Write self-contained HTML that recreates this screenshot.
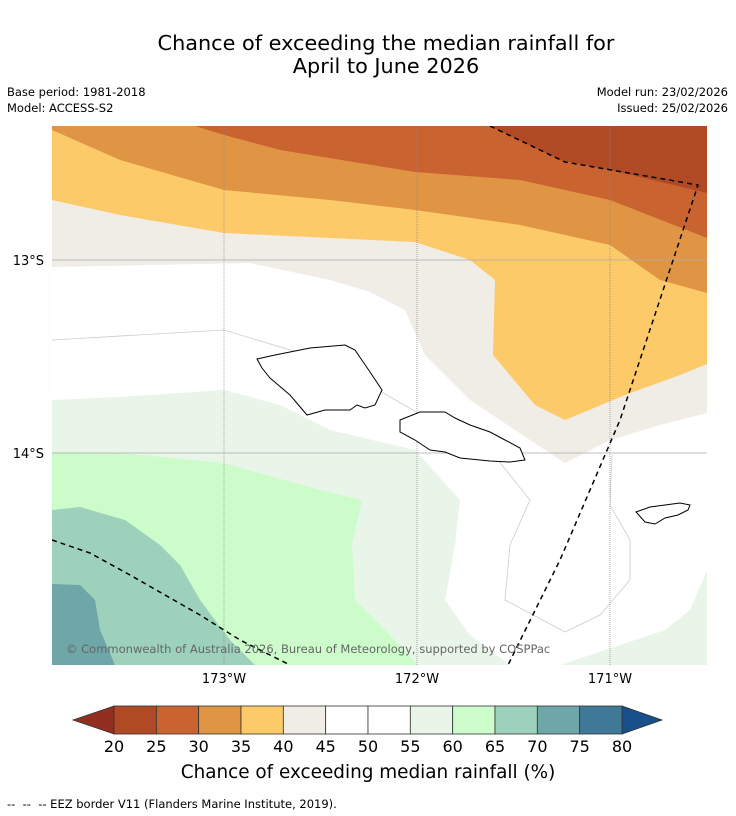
<!DOCTYPE html>
<html><head><meta charset="utf-8"><style>
body{margin:0;background:#fff;font-family:"DejaVu Sans","Liberation Sans",sans-serif;}
</style></head><body>
<svg width="736" height="816" viewBox="0 0 736 816" xmlns="http://www.w3.org/2000/svg" style="display:block;font-family:'DejaVu Sans','Liberation Sans',sans-serif">
<rect width="736" height="816" fill="#fefefe"/>
<text x="386" y="50" font-size="20.8" text-anchor="middle" fill="#000">Chance of exceeding the median rainfall for</text>
<text x="386" y="73" font-size="20.8" text-anchor="middle" fill="#000">April to June 2026</text>
<text x="7" y="96" font-size="11.5">Base period: 1981-2018</text>
<text x="7" y="112" font-size="11.5">Model: ACCESS-S2</text>
<text x="728" y="96" font-size="11.5" text-anchor="end">Model run: 23/02/2026</text>
<text x="728" y="112" font-size="11.5" text-anchor="end">Issued: 25/02/2026</text>
<defs><clipPath id="mc"><rect x="52" y="126" width="655" height="539"/></clipPath></defs>
<g clip-path="url(#mc)">
<rect x="52" y="126" width="655" height="539" fill="#ffffff"/>
<polygon fill="#f0ece6" points="52,126 707,126 707,413 660,425 610,440 565,463 530,440 470,400 425,355 405,310 370,292 330,280 250,263 52,267"/>
<polygon fill="#fdca69" points="52,126 707,126 707,364 680,375 625,395 565,420 535,405 493,355 495,280 470,260 415,242 330,238 224,233 120,215 52,200"/>
<polygon fill="#e09545" points="52,126 707,126 707,293 660,280 610,245 520,225 415,210 330,200 224,190 120,160 52,130"/>
<polygon fill="#c96431" points="195,126 707,126 707,238 610,200 520,180 415,172 280,150 224,135"/>
<polygon fill="#b04a25" points="490,126 707,126 707,193 610,170 560,160"/>
<polygon fill="#eaf5ea" points="52,400 120,397 224,390 280,405 330,430 415,450 460,500 455,545 445,600 470,635 510,665 52,665"/>
<polygon fill="#eaf5ea" points="560,665 620,645 665,630 690,610 707,570 707,665"/>
<polygon fill="#ccfcca" points="52,452 120,453 224,463 320,490 362,500 352,545 355,600 385,630 418,665 52,665"/>
<polygon fill="#9dd1bb" points="52,510 80,507 125,520 160,545 180,565 200,600 230,640 255,665 52,665"/>
<polygon fill="#6fa6a7" points="52,584 80,585 95,600 100,630 115,665 52,665"/>
<polyline fill="none" stroke="#ccc" stroke-width="0.8" points="52,340 224,330 330,362 430,420 490,450 530,500 510,545 505,600 565,632 600,615 630,580 630,540 610,505 612,455"/>
<g stroke="#888" stroke-width="0.7">
<line x1="224" y1="126" x2="224" y2="665" stroke-dasharray="1,1"/>
<line x1="417" y1="126" x2="417" y2="665" stroke-dasharray="1,1"/>
<line x1="610" y1="126" x2="610" y2="665" stroke-dasharray="1,1"/>
<line x1="52" y1="260" x2="707" y2="260" stroke="#aaa"/>
<line x1="52" y1="453" x2="707" y2="453" stroke="#aaa"/>
</g>
<g fill="#fff" stroke="#000" stroke-width="1">
<polygon points="257,359 275,355 310,348 345,345 355,350 370,372 382,390 375,405 365,408 357,405 350,410 325,410 307,415 290,395 270,378 262,368"/>
<polygon points="400,420 420,412 445,412 455,418 470,425 490,432 505,440 520,448 525,460 510,462 490,461 460,458 445,452 430,450 415,440 400,432"/>
<polygon points="636,512 650,507 665,505 680,503 690,505 688,510 678,515 665,518 655,524 645,522"/>
</g>
<polyline fill="none" stroke="#000" stroke-width="1.5" stroke-dasharray="5,4" points="490,126 565,162 698,185 620,420 560,560 508,665"/>
<polyline fill="none" stroke="#000" stroke-width="1.5" stroke-dasharray="5,4" points="52,540 90,553 130,575 200,615 240,640 290,665"/>
<text x="66" y="653" font-size="11.5" fill="#666">© Commonwealth of Australia 2026, Bureau of Meteorology, supported by COSPPac</text>
</g>
<g font-size="13">
<text x="44" y="265" text-anchor="end">13°S</text>
<text x="44" y="458" text-anchor="end">14°S</text>
<text x="224" y="683" text-anchor="middle">173°W</text>
<text x="417" y="683" text-anchor="middle">172°W</text>
<text x="610" y="683" text-anchor="middle">171°W</text>
</g>
<g id="cbar"></g>
<text x="368" y="778" font-size="18.4" text-anchor="middle">Chance of exceeding median rainfall (%)</text>
<text x="7" y="808" font-size="11.5">-- &#160;-- &#160;-- EEZ border V11 (Flanders Marine Institute, 2019).</text>
</svg>
<script>
const ticks=[20,25,30,35,40,45,50,55,60,65,70,75,80];
const binColors=["#b04a25","#c96431","#e09545","#fdca69","#f0ece6","#ffffff","#ffffff","#eaf5ea","#ccfcca","#9dd1bb","#6fa6a7","#407897"];
const underColor="#932f21", overColor="#17508a";
const ns="http://www.w3.org/2000/svg";
const g=document.getElementById('cbar');
const x0=114,x1=622,y0=706,y1=734;
const sx=v=>x0+(v-ticks[0])/(ticks[ticks.length-1]-ticks[0])*(x1-x0);
function mk(t,a){const e=document.createElementNS(ns,t);for(const k in a)e.setAttribute(k,a[k]);g.appendChild(e);return e;}
const lt=mk('polygon',{points:`73,720 ${x0},${y0} ${x0},${y1}`,fill:underColor,stroke:'#333','stroke-width':0.8});


const rt=mk('polygon',{points:`662,720 ${x1},${y0} ${x1},${y1}`,fill:overColor,stroke:'#333','stroke-width':0.8});


binColors.forEach((c,i)=>{
  const r=mk('rect',{x:sx(ticks[i]),y:y0,width:sx(ticks[i+1])-sx(ticks[i]),height:y1-y0,fill:c,stroke:'#333','stroke-width':0.8});
  
  
});
ticks.forEach(v=>{
  const t=mk('text',{x:sx(v),y:752,'font-size':16,'text-anchor':'middle'});
  t.textContent=v;
  
  
});
</script>
</body></html>
